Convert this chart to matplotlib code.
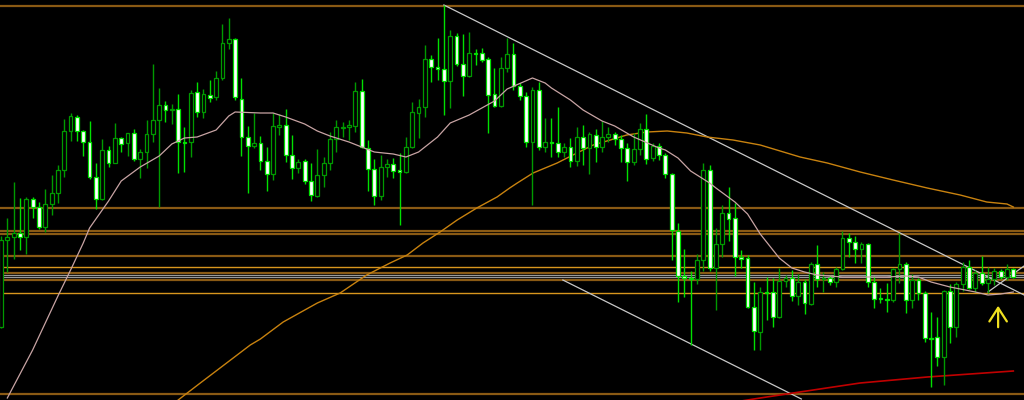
import numpy as np
import matplotlib
matplotlib.use('Agg')
import matplotlib.pyplot as plt

# candle OHLC, measured as level from the top of the chart (smaller = higher price)
opens = [327, 240, 237, 233, 237, 199, 207, 227, 204, 193,
         170, 131, 117, 131, 142, 177, 199, 150, 163, 138,
         143, 133, 159, 152, 134, 120, 105, 110, 109, 142,
         142, 92, 112, 95, 97, 78, 43, 39, 99, 137,
         146, 143, 161, 174, 127, 125, 155, 168, 161, 181,
         196, 175, 163, 139, 128, 127, 126, 91, 148, 169,
         196, 167, 164, 170, 172, 147, 113, 107, 59, 67,
         69, 81, 36, 64, 76, 53, 53, 59, 94, 106,
         68, 54, 86, 96, 142, 90, 147, 142, 143, 152,
         147, 161, 137, 148, 135, 147, 137, 134, 139, 148,
         162, 149, 129, 158, 146, 155, 174, 231, 276, 278,
         279, 260, 170, 268, 244, 213, 218, 257, 258, 307,
         332, 292, 292, 317, 281, 278, 296, 282, 304, 264,
         279, 278, 282, 269, 238, 242, 249, 244, 282, 298,
         299, 300, 269, 264, 300, 280, 293, 338, 337, 357,
         291, 327, 284, 267, 288, 273, 283, 279, 271, 277,
         269]
closes = [240, 237, 233, 237, 199, 207, 227, 204, 193, 170,
          131, 116, 131, 142, 177, 199, 150, 163, 138, 144,
          133, 159, 152, 134, 120, 105, 110, 109, 142, 143,
          93, 112, 94, 98, 78, 43, 39, 97, 137, 146,
          143, 161, 174, 126, 125, 155, 168, 162, 181, 195,
          175, 163, 139, 127, 127, 125, 91, 147, 169, 196,
          167, 164, 171, 172, 147, 112, 107, 59, 67, 69,
          81, 36, 64, 76, 53, 54, 60, 95, 106, 68,
          54, 86, 96, 142, 90, 147, 142, 143, 152, 147,
          161, 137, 148, 134, 147, 137, 134, 139, 148, 162,
          149, 129, 159, 146, 155, 174, 230, 276, 278, 279,
          260, 170, 268, 244, 213, 219, 257, 259, 307, 331,
          292, 293, 317, 281, 278, 296, 282, 303, 264, 279,
          278, 282, 269, 238, 242, 249, 244, 282, 299, 299,
          299, 269, 264, 300, 280, 293, 338, 338, 357, 291,
          327, 284, 267, 288, 273, 283, 279, 271, 277, 269,
          277]
highs = [236, 218, 182, 198, 197, 197, 202, 189, 175, 165,
         119, 113, 115, 130, 121, 163, 139, 146, 123, 137,
         133, 129, 149, 120, 64, 88, 101, 104, 94, 127,
         90, 82, 89, 80, 71, 24, 18, 38, 78, 126,
         113, 136, 147, 113, 114, 109, 135, 159, 159, 163,
         149, 157, 132, 120, 122, 120, 82, 79, 140, 159,
         155, 159, 158, 153, 137, 102, 99, 45, 55, 38,
         5, 30, 33, 34, 32, 49, 48, 57, 68, 57,
         38, 43, 83, 92, 87, 82, 118, 118, 107, 143,
         138, 127, 125, 132, 129, 121, 127, 132, 135, 143,
         133, 123, 114, 143, 143, 153, 173, 223, 249, 271,
         254, 163, 165, 228, 205, 187, 203, 250, 255, 282,
         287, 277, 278, 268, 275, 270, 274, 279, 262, 245,
         272, 275, 267, 231, 233, 236, 242, 243, 276, 288,
         283, 268, 233, 262, 274, 278, 291, 312, 317, 290,
         284, 282, 262, 260, 270, 256, 267, 268, 269, 264,
         268]
lows = [328, 272, 259, 250, 254, 218, 229, 232, 215, 203,
        177, 141, 141, 156, 179, 209, 200, 167, 163, 152,
        156, 161, 178, 168, 142, 207, 122, 124, 173, 172,
        157, 117, 118, 102, 100, 80, 49, 100, 156, 193,
        148, 170, 191, 180, 135, 162, 179, 173, 184, 201,
        197, 187, 170, 152, 137, 140, 132, 148, 191, 205,
        200, 177, 178, 225, 173, 148, 138, 117, 82, 80,
        115, 108, 66, 96, 77, 65, 62, 133, 107, 107,
        72, 90, 100, 147, 205, 150, 152, 157, 157, 157,
        167, 166, 165, 174, 162, 152, 142, 145, 162, 181,
        165, 155, 164, 161, 160, 178, 260, 302, 297, 345,
        284, 271, 271, 310, 257, 241, 276, 268, 308, 350,
        350, 320, 327, 318, 287, 301, 305, 314, 305, 287,
        292, 285, 287, 270, 257, 263, 263, 287, 308, 303,
        312, 302, 283, 313, 308, 300, 342, 387, 366, 385,
        343, 337, 291, 289, 292, 285, 293, 285, 279, 280,
        278]

# moving averages (bar index, level)
ma_fast_x = [1, 5, 9, 11, 13, 14, 17, 19, 22, 25, 27, 29, 31, 34, 36, 37, 41, 43, 45, 48,
             50, 52, 55, 57, 59, 62, 64, 66, 69, 71, 74, 76, 78, 80, 84, 86, 87, 90, 92, 95,
             97, 100, 104, 105, 107, 109, 112, 113, 116, 118, 120, 122, 123, 125, 127, 129,
             133, 137, 140, 143, 145, 147, 150, 154, 156, 158, 160]
ma_fast_y = [398, 350, 296, 270, 243, 228, 201, 181, 167, 156, 144, 138, 137, 130, 116, 112, 113, 113, 117, 124,
             131, 136, 142, 147, 152, 154, 157, 152, 137, 123, 115, 108, 101, 89, 78, 83, 88, 100, 110, 121,
             126, 137, 148, 150, 158, 171, 183, 188, 202, 214, 234, 250, 258, 268, 272, 275,
             277, 277, 277, 276, 277, 282, 287, 292, 295, 294, 292]

ma_slow_x = [27, 28, 31.5, 36.7, 39.4, 41, 44.6, 50, 53.6, 57.8, 61.5, 64.2, 66.7, 69.4, 72.1, 75.2,
             78.4, 80.4, 81.6, 84.1, 87.9, 90.4, 93.6, 96.3, 98.9, 102.1, 105.3, 108.4, 111.6,
             115.7, 120, 126.3, 130.6, 135.8, 141, 146.4, 151.6, 155.8, 159, 160]
ma_slow_y = [407, 400, 383, 358, 345, 339, 322, 303, 293, 275, 263, 255, 243, 232, 220, 208,
             197, 188, 183, 173, 163, 155, 145, 140, 135, 132, 131, 133, 137,
             140, 145, 157, 163, 172, 180, 188, 195, 202, 204, 207]

ma_long_x = [116, 120, 125.2, 135.8, 146.4, 160]
ma_long_y = [402, 398, 393, 383, 377, 371]

# horizontal levels
levels_dark = [6, 207.7, 230.5, 234, 256, 272.5, 280, 394]
levels_bright = [266.7, 293.3]
levels_grey = [275.3, 277.3]

# trend lines: (x0, y0, x1, y1) in bar index / level
trend_lines = [(70, 5, 161.7, 295),
               (88.8, 280, 126.5, 399),
               (156, 292, 161.7, 266)]

fig = plt.figure(figsize=(10.24, 4), dpi=100, facecolor='black')
ax = fig.add_axes([0, 0, 1, 1], facecolor='black')

n = len(opens)
x = np.arange(n)
o = np.array(opens, dtype=float)
c = np.array(closes, dtype=float)
bull = c < o

for y in levels_dark:
    ax.axhline(y, color='#8a5a14', lw=1.6, zorder=1)
for y in levels_bright:
    ax.axhline(y, color='#d8961e', lw=1.0, zorder=1)
for y in levels_grey:
    ax.axhline(y, color='#9a9a9a', lw=0.9, zorder=1)

for x0, y0, x1, y1 in trend_lines:
    ax.plot([x0, x1], [y0, y1], color='#c8c8c8', lw=0.9, zorder=2)

ax.plot(ma_slow_x, ma_slow_y, color='#c8820f', lw=1.0, zorder=2)
ax.plot(ma_long_x, ma_long_y, color='#c00000', lw=1.2, zorder=2)

col_up = '#009a00'
col_dn = '#00e000'
wick_cols = [col_up if b else col_dn for b in bull]
ax.vlines(x, highs, lows, colors=wick_cols, lw=1.0, zorder=3)

bottom = np.minimum(o, c)
height = np.maximum(np.abs(o - c), 0.8)
ax.bar(x, height, bottom=bottom, width=0.6,
       color=['black' if b else 'white' for b in bull],
       edgecolor=wick_cols, linewidth=0.9, zorder=4)

ax.plot(ma_fast_x, ma_fast_y, color='#c8a4a4', lw=0.9, zorder=5)

# hand drawn marker
ax.annotate('', xy=(157.6, 303), xytext=(157.6, 330),
            arrowprops=dict(arrowstyle='->,head_length=0.7,head_width=0.45',
                            color='#f0e020', lw=1.6, mutation_scale=14))

ax.set_xlim(-0.158, 161.69)
ax.set_ylim(400, 0)
ax.axis('off')

fig.savefig('out.png', dpi=100, facecolor='black')
